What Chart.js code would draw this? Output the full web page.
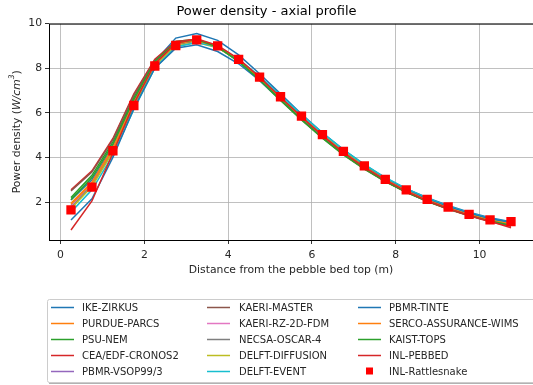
<!DOCTYPE html>
<html>
<head>
<meta charset="utf-8">
<script src="https://cdn.jsdelivr.net/npm/chart.js@4.4.0/dist/chart.umd.min.js"></script>
<style>
  html, body { margin: 0; padding: 0; background: #fff; overflow: hidden; }
  #wrap { width: 533px; height: 385px; position: relative; }
</style>
</head>
<body>
<div id="wrap"><canvas id="axial"></canvas></div>
<script>
// axial power density profile, one line per code + Rattlesnake markers

const FONT = 'DejaVu Sans';
Chart.defaults.font.family = FONT;
Chart.defaults.font.size = 10.8;
Chart.defaults.color = '#262626';

// distance from the pebble bed top (m), cell centres
const depth = [0.25,0.75,1.25,1.75,2.25,2.75,3.25,3.75,4.25,4.75,5.25,5.75,6.25,6.75,7.25,7.75,8.25,8.75,9.25,9.75,10.25,10.75];
const xTicks = [0, 2, 4, 6, 8, 10];
const yTicks = [2, 4, 6, 8, 10];

const ikeZirkus      = [2.10,3.00,4.50,6.50,8.30,9.35,9.55,9.25,8.60,7.75,6.85,5.95,5.10,4.35,3.68,3.08,2.60,2.20,1.85,1.55,1.30,1.12];
const purdueParcs    = [1.95,2.90,4.45,6.50,8.25,9.15,9.30,9.00,8.35,7.55,6.65,5.78,4.95,4.20,3.55,2.97,2.48,2.07,1.72,1.42,1.17,1.00];
const psuNem         = [2.20,3.20,4.70,6.70,8.35,9.20,9.30,8.95,8.30,7.45,6.55,5.68,4.86,4.12,3.48,2.92,2.44,2.04,1.70,1.41,1.16,0.98];
const ceaCronos2     = [2.55,3.40,4.85,6.85,8.40,9.20,9.30,8.95,8.35,7.50,6.60,5.72,4.90,4.15,3.50,2.93,2.45,2.03,1.68,1.38,1.12,0.92];
const pbmrVsop       = [1.85,2.85,4.40,6.45,8.20,9.10,9.25,8.95,8.35,7.55,6.65,5.80,4.98,4.23,3.58,3.00,2.51,2.09,1.74,1.44,1.18,1.02];
const kaeriMaster    = [2.50,3.35,4.80,6.80,8.35,9.15,9.25,8.95,8.35,7.50,6.60,5.73,4.91,4.17,3.52,2.95,2.46,2.05,1.70,1.40,1.15,0.95];
const kaeriRz2d      = [1.80,2.80,4.35,6.40,8.20,9.10,9.25,8.97,8.37,7.57,6.67,5.80,4.98,4.24,3.59,3.01,2.52,2.10,1.75,1.45,1.19,1.03];
const necsaOscar     = [1.75,2.75,4.30,6.35,8.15,9.05,9.22,8.95,8.37,7.58,6.70,5.83,5.00,4.26,3.60,3.02,2.53,2.11,1.76,1.46,1.20,1.05];
const delftDiffusion = [1.70,2.70,4.25,6.30,8.10,9.00,9.15,8.92,8.35,7.57,6.70,5.84,5.02,4.27,3.62,3.04,2.55,2.13,1.78,1.48,1.22,1.07];
const delftEvent     = [1.55,2.55,4.10,6.15,8.00,8.95,9.15,8.95,8.40,7.65,6.78,5.92,5.10,4.35,3.69,3.10,2.60,2.18,1.82,1.52,1.26,1.10];
const pbmrTinte      = [1.20,2.15,4.00,6.20,8.00,8.90,9.05,8.75,8.20,7.45,6.60,5.77,4.97,4.23,3.59,3.02,2.54,2.13,1.79,1.50,1.25,1.10];
const sercoWims      = [1.90,2.85,4.40,6.45,8.20,9.10,9.25,8.95,8.35,7.56,6.67,5.80,4.98,4.23,3.58,3.00,2.51,2.09,1.74,1.44,1.18,1.02];
const kaistTops      = [2.10,3.10,4.60,6.60,8.30,9.15,9.28,8.95,8.32,7.48,6.58,5.70,4.88,4.14,3.50,2.93,2.45,2.04,1.70,1.40,1.15,0.96];
const inlPebbed      = [0.75,2.05,4.20,6.40,8.20,9.12,9.32,9.02,8.42,7.60,6.70,5.82,4.98,4.22,3.56,2.98,2.48,2.06,1.71,1.40,1.14,0.85];
const inlRattlesnake = [1.65,2.67,4.30,6.33,8.10,9.02,9.27,9.00,8.40,7.60,6.72,5.85,5.02,4.27,3.62,3.02,2.55,2.12,1.78,1.45,1.20,1.12];

const codeNames = ['IKE-ZIRKUS','PURDUE-PARCS','PSU-NEM','CEA/EDF-CRONOS2','PBMR-VSOP99/3',
  'KAERI-MASTER','KAERI-RZ-2D-FDM','NECSA-OSCAR-4','DELFT-DIFFUSION','DELFT-EVENT',
  'PBMR-TINTE','SERCO-ASSURANCE-WIMS','KAIST-TOPS','INL-PEBBED'];
const codeSeries = [ikeZirkus, purdueParcs, psuNem, ceaCronos2, pbmrVsop, kaeriMaster, kaeriRz2d,
  necsaOscar, delftDiffusion, delftEvent, pbmrTinte, sercoWims, kaistTops, inlPebbed];
const tab10 = ['#1f77b4','#ff7f0e','#2ca02c','#d62728','#9467bd','#8c564b','#e377c2','#7f7f7f','#bcbd22','#17becf'];

const toXY = vals => vals.map((v, i) => ({ x: depth[i], y: v }));

// later series sit on top of earlier ones (lower order = drawn last)
const datasets = codeSeries.map((vals, i) => ({
  label: codeNames[i],
  data: toXY(vals),
  order: 100 - i,
  borderColor: tab10[i % 10],
  backgroundColor: tab10[i % 10],
  borderWidth: 1.5,
  pointRadius: 0,
  fill: false,
  tension: 0
}));
datasets.push({
  label: 'INL-Rattlesnake',
  data: toXY(inlRattlesnake),
  order: 0,
  showLine: false,
  pointStyle: 'rect',
  pointRadius: 6.6,
  borderWidth: 0,
  borderColor: '#ff0000',
  backgroundColor: '#ff0000'
});

// axes frame, italic y label and column-major legend under the plot
const framePlugin = {
  id: 'frame',
  afterDatasetsDraw(chart) {
    const { ctx, chartArea: a } = chart;
    ctx.save();
    ctx.strokeStyle = '#000';
    ctx.lineWidth = 1;
    ctx.strokeRect(a.left + 0.5, a.top + 0.5, a.right - a.left, a.bottom - a.top);
    ctx.restore();
  },
  afterDraw(chart) {
    const { ctx, chartArea: a } = chart;
    const parts = [
      { t: 'Power density (', f: '10.8px ' + FONT, dy: 0 },
      { t: 'W/cm', f: 'italic 10.8px ' + FONT, dy: 0 },
      { t: '3', f: 'italic 7.6px ' + FONT, dy: -5 },
      { t: ')', f: '10.8px ' + FONT, dy: 0 }
    ];
    ctx.save();
    let total = 0;
    parts.forEach(p => { ctx.font = p.f; p.w = ctx.measureText(p.t).width; total += p.w; });
    ctx.translate(17, (a.top + a.bottom) / 2);
    ctx.rotate(-Math.PI / 2);
    ctx.fillStyle = '#262626';
    ctx.textBaseline = 'middle';
    let x = -total / 2;
    parts.forEach(p => { ctx.font = p.f; ctx.fillText(p.t, x, p.dy); x += p.w; });
    ctx.restore();
  }
};

const legendPlugin = {
  id: 'colLegend',
  afterDraw(chart) {
    const { ctx } = chart;
    const box = { x: 47, y: 299, w: 490, h: 83 };
    ctx.save();
    ctx.fillStyle = 'rgba(0,0,0,0.3)';
    ctx.fillRect(box.x + 2, box.y + 2, box.w, box.h);
    ctx.fillStyle = '#fff';
    ctx.strokeStyle = '#cccccc';
    ctx.lineWidth = 1;
    ctx.beginPath();
    ctx.roundRect(box.x + 0.5, box.y + 0.5, box.w, box.h, 2);
    ctx.fill();
    ctx.stroke();

    const cols = [{ line: 51, text: 82 }, { line: 207, text: 239 }, { line: 358, text: 389 }];
    const rowY = [307, 323, 339, 355, 371];
    ctx.font = '10px ' + FONT;
    ctx.textBaseline = 'middle';
    chart.data.datasets.forEach((ds, i) => {
      const c = cols[Math.floor(i / 5)];
      const y = rowY[i % 5];
      if (ds.showLine === false) {
        ctx.fillStyle = ds.backgroundColor;
        ctx.fillRect(c.line + 8, y - 3.5, 7, 7);
      } else {
        ctx.strokeStyle = ds.borderColor;
        ctx.lineWidth = 1.5;
        ctx.beginPath();
        ctx.moveTo(c.line, y + 0.5);
        ctx.lineTo(c.line + 23, y + 0.5);
        ctx.stroke();
      }
      ctx.fillStyle = '#262626';
      ctx.fillText(ds.label, c.text, y + 1);
    });
    ctx.restore();
  }
};

new Chart(document.getElementById('axial'), {
  type: 'line',
  data: { datasets },
  plugins: [framePlugin, legendPlugin],
  options: {
    responsive: true,
    maintainAspectRatio: false,
    animation: false,
    layout: { autoPadding: false, padding: { top: 0, right: 0, bottom: 108, left: 0 } },
    plugins: {
      legend: { display: false },
      tooltip: { enabled: false },
      title: {
        display: true,
        text: 'Power density - axial profile',
        font: { size: 13, weight: 'normal' },
        color: '#000',
        padding: { top: 4, bottom: 4 }
      }
    },
    scales: {
      x: {
        type: 'linear',
        min: -0.275,
        max: 11.275,
        afterBuildTicks: s => { s.ticks = xTicks.map(v => ({ value: v })); },
        afterFit: s => { s.height = 37; s.paddingLeft = 0; s.paddingRight = 0; },
        ticks: { color: '#262626', padding: 5, maxRotation: 0 },
        grid: { color: '#b0b0b0', lineWidth: 0.8, tickColor: '#000', tickLength: 4 },
        border: { display: false },
        title: { display: true, text: 'Distance from the pebble bed top (m)', color: '#262626', padding: { top: 0, bottom: 0 } }
      },
      y: {
        min: 0.3,
        max: 10,
        afterBuildTicks: s => { s.ticks = yTicks.map(v => ({ value: v })); },
        afterFit: s => { s.width = 49; s.paddingTop = 0; s.paddingBottom = 0; },
        ticks: { color: '#262626', padding: 3 },
        grid: { color: '#b0b0b0', lineWidth: 0.8, tickColor: '#000', tickLength: 4 },
        border: { display: false }
      }
    }
  }
});
</script>
</body>
</html>
